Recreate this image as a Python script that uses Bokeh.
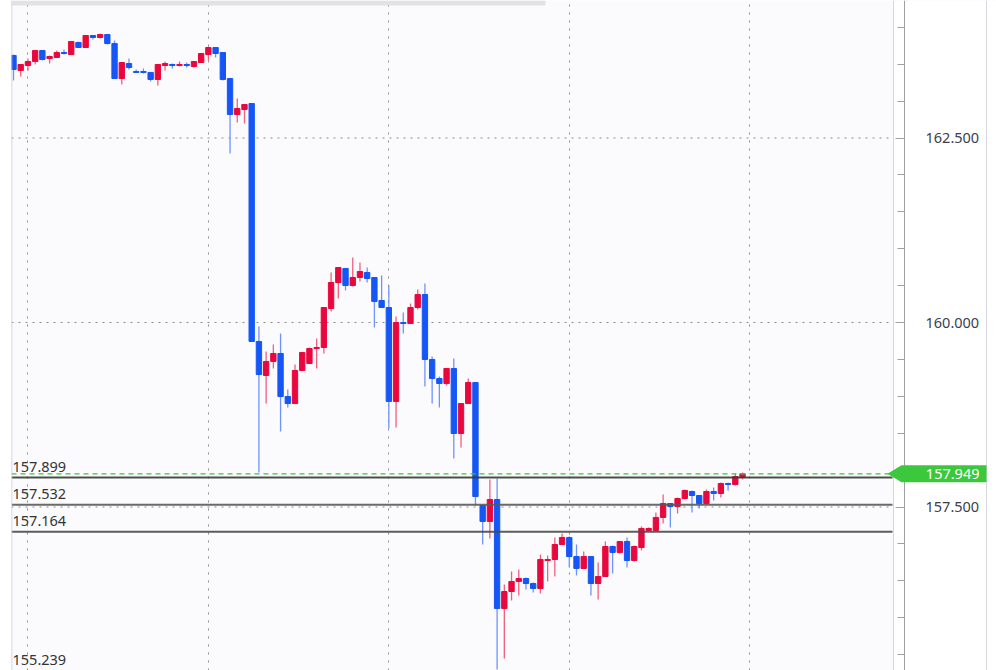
import numpy as np
from bokeh.plotting import figure
from bokeh.models import (ColumnDataSource, FixedTicker, PrintfTickFormatter, Span,
                          Label, PolyAnnotation, BoxAnnotation, Range1d)
from bokeh.embed import file_html
from bokeh.resources import INLINE

# ---------------- data ----------------
opens = [163.618, 163.415, 163.482, 163.537, 163.686, 163.577, 163.591, 163.658, 163.631, 163.794,
         163.726, 163.889, 163.862, 163.902, 163.780, 163.306, 163.509, 163.401, 163.401, 163.388,
         163.293, 163.482, 163.496, 163.482, 163.496, 163.469, 163.523, 163.631, 163.726, 163.658,
         163.306, 162.818, 162.886, 162.967, 159.743, 159.282, 159.472, 159.580, 158.997, 158.902,
         159.350, 159.444, 159.648, 159.661, 160.190, 160.542, 160.732, 160.501, 160.610, 160.678,
         160.610, 160.298, 160.203, 158.930, 160.000, 159.986, 160.203, 160.379, 159.499, 159.241,
         159.173, 159.377, 158.496, 158.902, 159.187, 157.520, 157.304, 157.602, 156.125, 156.355,
         156.491, 156.531, 156.463, 156.396, 156.775, 156.789, 156.992, 157.087, 156.829, 156.667,
         156.829, 156.463, 156.558, 156.965, 156.884, 157.033, 156.775, 156.951, 157.182, 157.182,
         157.358, 157.547, 157.507, 157.615, 157.710, 157.656, 157.547, 157.710, 157.683, 157.818,
         157.805, 157.900]
highs = [163.631, 163.496, 163.577, 163.686, 163.686, 163.618, 163.686, 163.699, 163.808, 163.808,
         163.889, 163.889, 163.916, 163.902, 163.821, 163.523, 163.577, 163.428, 163.442, 163.388,
         163.496, 163.537, 163.509, 163.537, 163.523, 163.537, 163.645, 163.740, 163.726, 163.658,
         163.306, 163.035, 162.954, 162.967, 159.946, 159.607, 159.702, 159.851, 159.092, 159.431,
         159.594, 159.661, 159.783, 160.203, 160.678, 160.745, 160.732, 160.881, 160.813, 160.745,
         160.610, 160.637, 160.501, 160.081, 160.136, 160.257, 160.447, 160.528, 159.539, 159.268,
         159.377, 159.512, 158.902, 159.241, 159.187, 157.534, 157.873, 157.886, 156.450, 156.626,
         156.653, 156.545, 156.477, 156.856, 156.843, 157.087, 157.141, 157.100, 156.992, 156.897,
         156.829, 156.748, 157.033, 156.978, 157.033, 157.087, 156.978, 157.236, 157.222, 157.426,
         157.669, 157.547, 157.629, 157.737, 157.724, 157.656, 157.737, 157.764, 157.832, 157.832,
         157.954, 157.967]
lows = [163.279, 163.333, 163.415, 163.496, 163.550, 163.509, 163.591, 163.631, 163.631, 163.726,
        163.726, 163.835, 163.848, 163.767, 163.306, 163.225, 163.428, 163.380, 163.374, 163.266,
        163.211, 163.415, 163.442, 163.469, 163.455, 163.455, 163.523, 163.550, 163.591, 163.279,
        162.290, 162.710, 162.696, 159.743, 157.967, 158.902, 159.377, 158.523, 158.848, 158.902,
        159.350, 159.444, 159.377, 159.580, 160.149, 160.325, 160.434, 160.488, 160.556, 160.542,
        159.932, 160.203, 158.564, 158.577, 159.851, 159.986, 160.176, 159.133, 158.902, 158.848,
        159.146, 158.157, 158.306, 158.902, 157.520, 156.992, 157.073, 155.298, 155.447, 156.233,
        156.301, 156.382, 156.342, 156.328, 156.491, 156.558, 156.992, 156.680, 156.572, 156.667,
        156.301, 156.247, 156.558, 156.599, 156.870, 156.680, 156.762, 156.911, 157.182, 157.168,
        157.276, 157.222, 157.412, 157.602, 157.426, 157.480, 157.534, 157.588, 157.629, 157.724,
        157.791, 157.873]
closes = [163.428, 163.496, 163.537, 163.686, 163.564, 163.604, 163.658, 163.645, 163.808, 163.726,
          163.889, 163.862, 163.902, 163.780, 163.306, 163.523, 163.455, 163.388, 163.388, 163.293,
          163.496, 163.509, 163.482, 163.496, 163.482, 163.537, 163.645, 163.726, 163.645, 163.293,
          162.818, 162.900, 162.954, 159.743, 159.295, 159.472, 159.580, 158.997, 158.902, 159.350,
          159.594, 159.648, 159.661, 160.203, 160.542, 160.745, 160.501, 160.610, 160.691, 160.596,
          160.285, 160.203, 158.930, 160.000, 159.986, 160.203, 160.379, 159.499, 159.241, 159.173,
          159.377, 158.496, 158.902, 159.187, 157.642, 157.304, 157.602, 156.125, 156.355, 156.491,
          156.531, 156.463, 156.396, 156.789, 156.789, 156.992, 157.087, 156.829, 156.667, 156.829,
          156.463, 156.558, 156.965, 156.884, 157.033, 156.775, 156.965, 157.209, 157.209, 157.358,
          157.547, 157.507, 157.615, 157.724, 157.656, 157.547, 157.710, 157.683, 157.818, 157.805,
          157.913, 157.949]

level_prices = [157.899, 157.532, 157.164]
level_labels = ["157.899", "157.532", "157.164"]
low_mark_price = 155.239
low_mark_label = "155.239"
current_price = 157.949
current_label = "157.949"
price_ticks = [155.0, 157.5, 160.0, 162.5, 165.0]
price_minor_step = 0.5
session_marks = [2, 27, 52, 77, 102]   # candle index of the vertical grid lines

# ---------------- layout ----------------
W, H = 996, 670
FRAME_LEFT = 11                     # page x of the frame's left edge
FRAME_W = W - FRAME_LEFT
CANDLE_STEP = 7.218                 # px per candle
X0 = (FRAME_LEFT - 13) / CANDLE_STEP
X1 = X0 + FRAME_W / CANDLE_STEP
PY = 73.8                           # px per price unit
Y1 = 160.0 + 322 / PY
Y0 = Y1 - H / PY


def data_x(page_x):
    return X0 + (page_x - FRAME_LEFT) / CANDLE_STEP


CHART_RIGHT = data_x(893)
AXIS_X = data_x(904)

RED, BLUE = "#e8083e", "#1556f6"
RED_W, BLUE_W = "#f0607f", "#6e93fb"
FONT = "Noto Sans"
FS = "14.5px"

p = figure(width=W, height=H, x_range=Range1d(X0, X1), y_range=Range1d(Y0, Y1),
           output_backend="svg", toolbar_location=None,
           x_axis_location=None, y_axis_location="right",
           min_border_left=FRAME_LEFT, min_border_right=0,
           min_border_top=0, min_border_bottom=0)
p.background_fill_color = "#fbfbfd"
p.border_fill_color = "#ffffff"
p.outline_line_color = None

# vertical grid (session marks)
p.ygrid.grid_line_color = None
p.xgrid.ticker = FixedTicker(ticks=session_marks)
p.xgrid.grid_line_color = "#8c8c8c"
p.xgrid.grid_line_dash = "2 6"
p.xgrid.grid_line_width = 1

# horizontal grid lines at the labelled prices, limited to the candle area
p.segment(x0=X0, y0=price_ticks, x1=CHART_RIGHT, y1=price_ticks,
          line_color="#8c8c8c", line_width=1, line_dash="2 5")

# price axis placed inside the frame at the chart's right edge
ax = p.yaxis[0]
ax.fixed_location = AXIS_X
ax.ticker = FixedTicker(ticks=price_ticks,
                        minor_ticks=list(np.arange(price_ticks[0], price_ticks[-1] + 0.01, price_minor_step)))
ax.formatter = PrintfTickFormatter(format="%.3f")
ax.major_tick_in = 9
ax.major_tick_out = 0
ax.minor_tick_in = 7
ax.minor_tick_out = 0
ax.axis_line_color = "#a0a0a0"
ax.major_tick_line_color = "#a0a0a0"
ax.minor_tick_line_color = "#a0a0a0"
ax.major_label_standoff = 21
ax.major_label_text_font = FONT
ax.major_label_text_font_size = FS
ax.major_label_text_color = "#3a4050"

# white axis panel background + borders
p.add_layout(BoxAnnotation(left=CHART_RIGHT, right=X1, fill_color="#ffffff", fill_alpha=1.0,
                           line_color=None, level="underlay"))
p.add_layout(Span(location=X0, dimension="height", line_color="#c6c9de", line_width=1.5))
p.add_layout(Span(location=CHART_RIGHT, dimension="height", line_color="#d6d6de", line_width=1))
p.add_layout(Span(location=data_x(986), dimension="height", line_color="#d6d6de", line_width=1))
# scrollbar strip at the top
p.add_layout(BoxAnnotation(left=X0, right=data_x(545), top=Y1, bottom=Y1 - 5 / PY,
                           fill_color="#e2e2e4", fill_alpha=1.0, line_color=None))

# candles
o = np.array(opens)
c = np.array(closes)
up = c >= o
src = ColumnDataSource(dict(
    x=np.arange(len(opens)), h=highs, l=lows,
    top=np.maximum(o, c), bottom=np.minimum(o, c),
    fill=np.where(up, RED, BLUE), wick=np.where(up, RED_W, BLUE_W)))
p.segment(x0="x", y0="h", x1="x", y1="l", line_color="wick", line_width=1.3, source=src)
p.vbar(x="x", width=0.74, top="top", bottom="bottom", fill_color="fill",
       line_color="fill", line_width=1, source=src)

# horizontal level lines
xr = data_x(892)
line_colors = ["#3a3a3a", "#5a5a5a", "#4a4a4a"]
for lv, col in zip(level_prices, line_colors):
    p.segment(x0=X0, y0=lv, x1=xr, y1=lv, line_color=col, line_width=2, line_alpha=0.9)
p.segment(x0=X0, y0=current_price, x1=xr, y1=current_price, line_color="#3cc43c",
          line_width=1.2, line_dash="5 4")

# level labels
for lv, txt in zip(level_prices, level_labels):
    p.add_layout(Label(x=X0, y=lv, x_offset=1, y_offset=11, text=txt,
                       text_font=FONT, text_font_size=FS,
                       text_color="#333333", text_baseline="alphabetic"))
p.add_layout(Label(x=X0, y=low_mark_price, x_offset=1, y_offset=14, text=low_mark_label,
                   text_font=FONT, text_font_size=FS,
                   text_color="#333333", text_baseline="alphabetic"))

# current price tag
hh = 8.5 / PY
tip, shoulder, end = data_x(887), data_x(901), data_x(986)
p.add_layout(PolyAnnotation(
    xs=[tip, shoulder, end, end, shoulder],
    ys=[current_price, current_price + hh, current_price + hh, current_price - hh, current_price - hh],
    fill_color="#3cc83c", fill_alpha=1.0, line_color=None, level="overlay"))
p.add_layout(Label(x=data_x(979), y=current_price, text=current_label, text_align="right",
                   text_baseline="middle", text_font=FONT, text_font_size=FS,
                   text_color="#ffffff", level="overlay"))

open("out.html", "w").write(file_html(p, INLINE))
